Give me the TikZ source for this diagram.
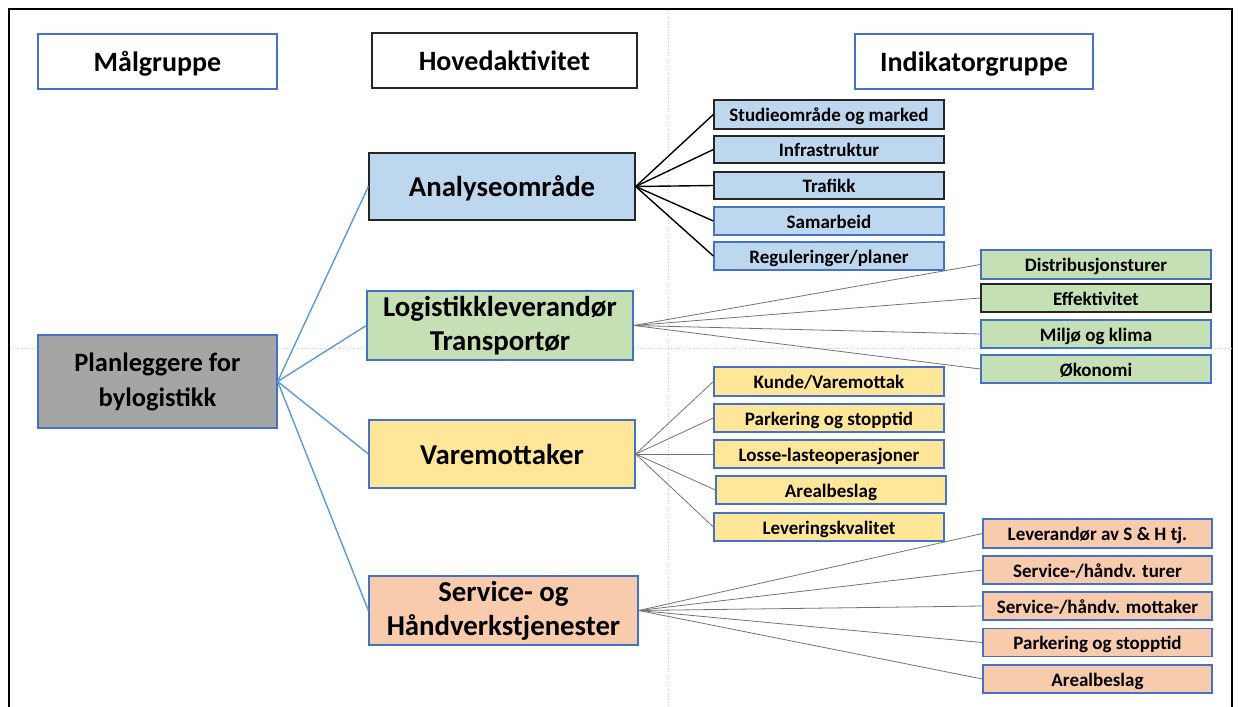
\documentclass[tikz,border=0pt]{standalone}
\usepackage{fontspec}
\setmainfont{Carlito}
\definecolor{bordblue}{HTML}{4472C4}
\definecolor{fillblue}{HTML}{BDD7EE}
\definecolor{fillgreen}{HTML}{C5E0B4}
\definecolor{fillyellow}{HTML}{FFE699}
\definecolor{fillpeach}{HTML}{F8CBAD}
\definecolor{fillgrey}{HTML}{A5A5A5}
\definecolor{connblue}{HTML}{5B9BD5}
\definecolor{guide}{HTML}{D0D0D0}
\begin{document}
\begin{tikzpicture}[x=1pt,y=-1pt,
  box/.style={draw=bordblue, line width=1.3pt, inner sep=0pt, align=center, font=\bfseries},
  head/.style={box, fill=white, minimum height=55pt, text height=20.4pt, text depth=0pt, font=\bfseries\fontsize{28}{32}\selectfont},
  mid/.style={box, font=\bfseries\fontsize{28.8}{34.5}\selectfont},
  oneline/.style={text height=20.8pt, text depth=0pt},
  ind/.style={box, minimum width=230pt, text height=14.6pt, text depth=0pt, font=\bfseries\fontsize{19}{22}\selectfont},
  blk/.style={draw=black!85},
  fanblack/.style={draw=black, line width=1.4pt},
  fangrey/.style={draw=black!55, line width=0.8pt},
  link/.style={draw=connblue, line width=1.4pt}
]
\useasboundingbox (0,0) rectangle (1240,707);
\draw[black, line width=1.5pt] (9,9) rectangle (1232,712);
\draw[guide, dotted, line width=0.8pt] (668,10) -- (668,706);
\draw[guide, dotted, line width=0.8pt] (10,348) -- (1231,348);

% headers
\node[head, minimum width=239pt] (hm) at (157.5,61.5) {Målgruppe};
\node[head, blk, minimum width=265pt] (hh) at (504.5,60.5) {Hovedaktivitet};
\node[head, minimum width=238pt] (hi) at (974,61.5) {Indikatorgruppe};

% left
\node[mid, fill=fillgrey, minimum width=239pt, minimum height=93pt, font=\bfseries\fontsize{26.5}{35}\selectfont] (pl) at (157.5,381.5) {Planleggere for\\bylogistikk};

% middle
\node[mid, oneline, blk, fill=fillblue, minimum width=266pt, minimum height=67pt] (an) at (502,186.5) {Analyseområde};
\node[mid, fill=fillgreen, minimum width=266pt, minimum height=69pt] (lo) at (500,325.5) {Logistikkleverandør\\Transportør};
\node[mid, oneline, fill=fillyellow, minimum width=266pt, minimum height=68pt] (va) at (502,454) {Varemottaker};
\node[mid, fill=fillpeach, minimum width=269pt, minimum height=69pt, font=\bfseries\fontsize{28.8}{34}\selectfont] (se) at (503.5,610.5) {Service- og\\Håndverkstjenester};

% blue indicators
\node[ind, blk, fill=fillblue, minimum height=29pt] (a1) at (829,114.5) {Studieområde og marked};
\node[ind, blk, fill=fillblue, minimum height=27pt] (a2) at (829,149.5) {Infrastruktur};
\node[ind, blk, fill=fillblue, minimum height=27pt] (a3) at (829,185.5) {Trafikk};
\node[ind, fill=fillblue, minimum height=28pt] (a4) at (829,221) {Samarbeid};
\node[ind, fill=fillblue, minimum height=28pt] (a5) at (829,256) {Reguleringer/planer};

% green indicators
\node[ind, fill=fillgreen, minimum height=29pt] (g1) at (1096,264.5) {Distribusjonsturer};
\node[ind, blk, fill=fillgreen, minimum height=28pt] (g2) at (1096,298) {Effektivitet};
\node[ind, fill=fillgreen, minimum height=28pt] (g3) at (1096,334) {Miljø og klima};
\node[ind, fill=fillgreen, minimum height=28pt] (g4) at (1096,369) {Økonomi};

% yellow indicators
\node[ind, fill=fillyellow, minimum height=29pt] (y1) at (829,381.5) {Kunde/Varemottak};
\node[ind, fill=fillyellow, minimum height=28pt] (y2) at (829,418) {Parkering og stopptid};
\node[ind, fill=fillyellow, minimum height=28pt] (y3) at (829,454) {Losse-lasteoperasjoner};
\node[ind, fill=fillyellow, minimum height=28pt] (y4) at (831,490) {Arealbeslag};
\node[ind, fill=fillyellow, minimum height=28pt] (y5) at (829,527) {Leveringskvalitet};

% peach indicators
\node[ind, fill=fillpeach, minimum width=229pt, minimum height=29pt] (p1) at (1097.5,533.5) {Leverandør av S \& H tj.};
\node[ind, fill=fillpeach, minimum width=229pt, minimum height=28pt] (p2) at (1097.5,570) {Service-/håndv. turer};
\node[ind, fill=fillpeach, minimum width=229pt, minimum height=28pt] (p3) at (1097.5,606) {Service-/håndv. mottaker};
\node[ind, fill=fillpeach, minimum width=229pt, minimum height=28pt] (p4) at (1097.5,642.5) {Parkering og stopptid};
\node[ind, fill=fillpeach, minimum width=229pt, minimum height=28pt] (p5) at (1097.5,679) {Arealbeslag};

% blue links
\foreach \t in {an,lo,va,se} \draw[link] (pl.east) -- (\t.west);

% fans
\foreach \t in {a1,a2,a3,a4,a5} \draw[fanblack] (an.east) -- (\t.west);
\foreach \t in {g1,g2,g3,g4} \draw[fangrey] (lo.east) -- (\t.west);
\foreach \t in {y1,y2,y3,y4,y5} \draw[fangrey] (va.east) -- (\t.west);
\foreach \t in {p1,p2,p3,p4,p5} \draw[fangrey] (se.east) -- (\t.west);
\end{tikzpicture}
\end{document}
